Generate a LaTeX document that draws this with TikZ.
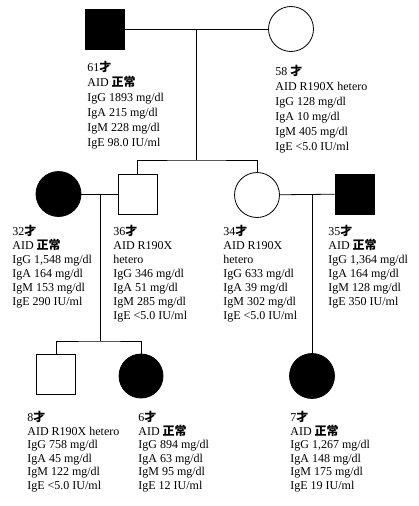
\documentclass[tikz,border=0pt]{standalone}
\usepackage{fontspec}
\setmainfont{Liberation Serif}
\newfontfamily\cjk{Noto Sans CJK JP}
\newcommand{\sai}{{\cjk\bfseries 才}}
\newcommand{\seijo}{{\cjk\bfseries 正常}}

\begin{document}
\begin{tikzpicture}[x=1pt,y=-1pt,line width=0.8pt]
  \tikzstyle{male}=[draw,rectangle,minimum width=39pt,minimum height=40pt,inner sep=0pt]
  \tikzstyle{female}=[draw,circle,minimum size=45pt,inner sep=0pt]
  \tikzstyle{ill}=[fill=black]
  \tikzstyle{info}=[anchor=base west,align=left,inner sep=0pt,font=\fontsize{12}{15}\selectfont]
  \useasboundingbox (0,0) rectangle (419,506);
  % generation I
  \node[male,ill] (f1) at (104.5,29) {};
  \node[female] (m1) at (291,29) {};
  \coordinate (u1) at (196,29);
  \coordinate (j1) at (196,160);
  % generation II
  \node[female,ill] (d1) at (58.5,194) {};
  \node[male] (s1) at (137.5,194) {};
  \node[female] (d2) at (257,195) {};
  \node[male,ill] (s2) at (354.5,194) {};
  \coordinate (u2) at (100,194);
  \coordinate (u3) at (312,194);
  \coordinate (j2) at (100,341);
  % generation III
  \node[male] (c1) at (56,374) {};
  \node[female,ill,minimum size=44pt] (c2) at (141,376) {};
  \node[female,ill] (c3) at (312,376) {};
  % lines
  \draw (f1) -- (m1);
  \draw (u1) -- (j1);
  \draw (s1.north) |- (j1) -| (d2.north);
  \draw (d1) -- (s1);
  \draw (d2) -- (s2);
  \draw (u2) -- (j2);
  \draw (c1.north) |- (j2) -| (c2.north);
  \draw (u3) -- (c3.north);
  % data (anchored at the last line)
  \node[info] (t1) at (87,146) {61\sai\\AID \seijo\\IgG 1893 mg/dl\\IgA 215 mg/dl\\IgM 228 mg/dl\\IgE 98.0 IU/ml};
  \node[info] (t2) at (275,150) {58 \sai\\AID R190X hetero\\IgG 128 mg/dl\\IgA 10 mg/dl\\IgM 405 mg/dl\\IgE <5.0 IU/ml};
  \tikzstyle{info}=[anchor=base west,align=left,inner sep=0pt,font=\fontsize{12}{14}\selectfont]
  \node[info] (t3) at (12,305) {32\sai\\AID \seijo\\IgG 1,548 mg/dl\\IgA 164 mg/dl\\IgM 153 mg/dl\\IgE 290 IU/ml};
  \node[info] (t4) at (113,319) {36\sai\\AID R190X\\hetero\\IgG 346 mg/dl\\IgA 51 mg/dl\\IgM 285 mg/dl\\IgE <5.0 IU/ml};
  \node[info] (t5) at (223,319) {34\sai\\AID R190X\\hetero\\IgG 633 mg/dl\\IgA 39 mg/dl\\IgM 302 mg/dl\\IgE <5.0 IU/ml};
  \node[info] (t6) at (328,305) {35\sai\\AID \seijo\\IgG 1,364 mg/dl\\IgA 164 mg/dl\\IgM 128 mg/dl\\IgE 350 IU/ml};
  \tikzstyle{info}=[anchor=base west,align=left,inner sep=0pt,font=\fontsize{12}{13.5}\selectfont]
  \node[info] (t7) at (27,489) {8\sai\\AID R190X hetero\\IgG 758 mg/dl\\IgA 45 mg/dl\\IgM 122 mg/dl\\IgE <5.0 IU/ml};
  \node[info] (t8) at (138,489) {6\sai\\AID \seijo\\IgG 894 mg/dl\\IgA 63 mg/dl\\IgM 95 mg/dl\\IgE 12 IU/ml};
  \node[info] (t9) at (290,489) {7\sai\\AID \seijo\\IgG 1,267 mg/dl\\IgA 148 mg/dl\\IgM 175 mg/dl\\IgE 19 IU/ml};
\end{tikzpicture}
\end{document}
